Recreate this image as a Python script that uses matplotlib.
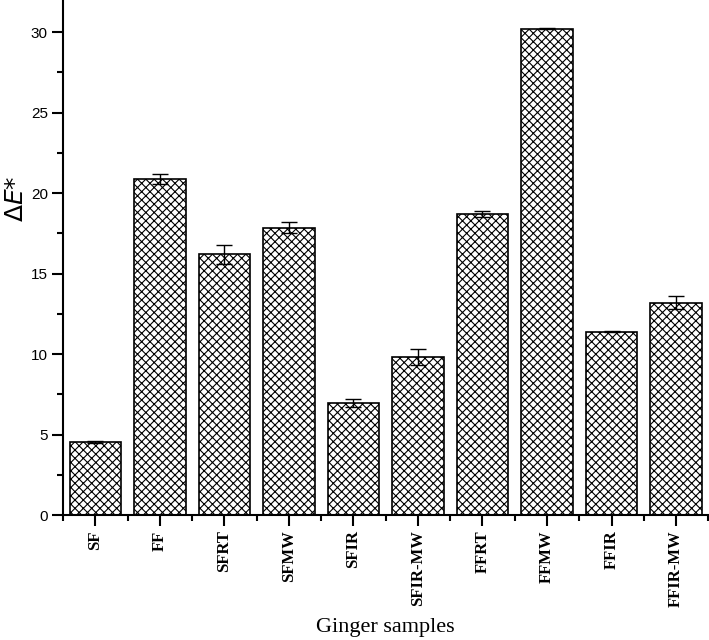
import numpy as np
import matplotlib.pyplot as plt
from matplotlib.ticker import MultipleLocator

samples = ["SF", "FF", "SFRT", "SFMW", "SFIR", "SFIR-MW", "FFRT", "FFMW", "FFIR", "FFIR-MW"]
delta_e = [4.55, 20.9, 16.2, 17.85, 6.97, 9.83, 18.72, 30.22, 11.4, 13.2]
err = [0.05, 0.3, 0.6, 0.35, 0.25, 0.5, 0.2, 0.05, 0.05, 0.4]

plt.rcParams['hatch.linewidth'] = 0.8
plt.rcParams['hatch.color'] = '#333333'

fig = plt.figure(figsize=(7.09, 6.4), dpi=100)
ax = fig.add_axes([0.089, 0.195, 0.91, 0.805])

x = np.arange(len(samples))
ax.bar(x, delta_e, width=0.8, color="white", edgecolor="black", linewidth=1.2,
       hatch="xxxx")
ax.errorbar(x, delta_e, yerr=err, fmt="none", ecolor="black", elinewidth=1,
            capsize=6, capthick=1)

ax.set_xlim(-0.5, 9.5)
ax.set_ylim(0, 32)
ax.spines['top'].set_visible(False)
ax.spines['right'].set_visible(False)
ax.spines['left'].set_linewidth(1.5)
ax.spines['bottom'].set_linewidth(1.5)

ax.set_xticks(x)
ax.set_xticklabels(samples, rotation=90, fontfamily="Liberation Serif",
                   fontweight="bold", fontsize=12)
ax.xaxis.set_minor_locator(MultipleLocator(1, offset=0.5))
ax.yaxis.set_major_locator(MultipleLocator(5))
ax.yaxis.set_minor_locator(MultipleLocator(2.5))
ax.tick_params(axis="both", which="major", direction="out", length=8, width=1.5, pad=3)
ax.tick_params(axis="both", which="minor", direction="out", length=4, width=1.5)
ax.tick_params(axis="y", labelsize=11)
for lab in ax.get_yticklabels():
    lab.set_fontfamily("Liberation Sans")

ax.set_xlabel("Ginger samples", fontfamily="Liberation Serif", fontsize=16, labelpad=8)
ax.set_ylabel(r"$\Delta\mathit{E}$*", fontsize=18)
ax.yaxis.set_label_coords(-0.055, 0.614)

fig.savefig("out.png", dpi=100)
